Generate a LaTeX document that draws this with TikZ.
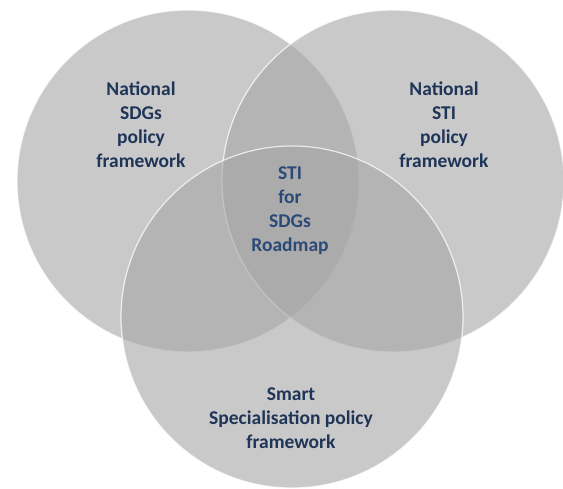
\documentclass[tikz,border=0pt]{standalone}
\usepackage{fontspec}
\setmainfont{Carlito}
\usepackage{xcolor}
\usepackage{tikz}
\usetikzlibrary{positioning}

\definecolor{vennfill}{gray}{0.65}
\definecolor{labelblue}{HTML}{1F3558}
\definecolor{coreblue}{HTML}{2C4A78}

\begin{document}
\begin{tikzpicture}[
    x=1pt, y=-1pt,
    venn/.style={circle, inner sep=0pt, minimum size=342pt, fill=vennfill,
                 fill opacity=0.6, draw=white, draw opacity=0.75, line width=1.2pt},
    lbl/.style={align=center, font=\fontsize{19.5}{24}\selectfont\bfseries, text=labelblue},
    core/.style={lbl, text=coreblue}
  ]
  \useasboundingbox (0,0) rectangle (563,489);
  \fill[white] (0,0) rectangle (563,489);
  % the three sets
  \node[venn] (sdg)   at (188,181) {};
  \node[venn] (sti)   at (393,181) {};
  \node[venn] (smart) at (292,317) {};
  % labels
  \node[lbl]  (sdglbl)   at (141,125) {National\\SDGs\\policy\\framework};
  \node[lbl]  (stilbl)   at (444,125) {National\\STI\\policy\\framework};
  \node[core] (roadmap)  at (290,211) {STI\\for\\SDGs\\Roadmap};
  \node[lbl]  (smartlbl) at (291,418) {Smart\\Specialisation policy\\framework};
\end{tikzpicture}
\end{document}
